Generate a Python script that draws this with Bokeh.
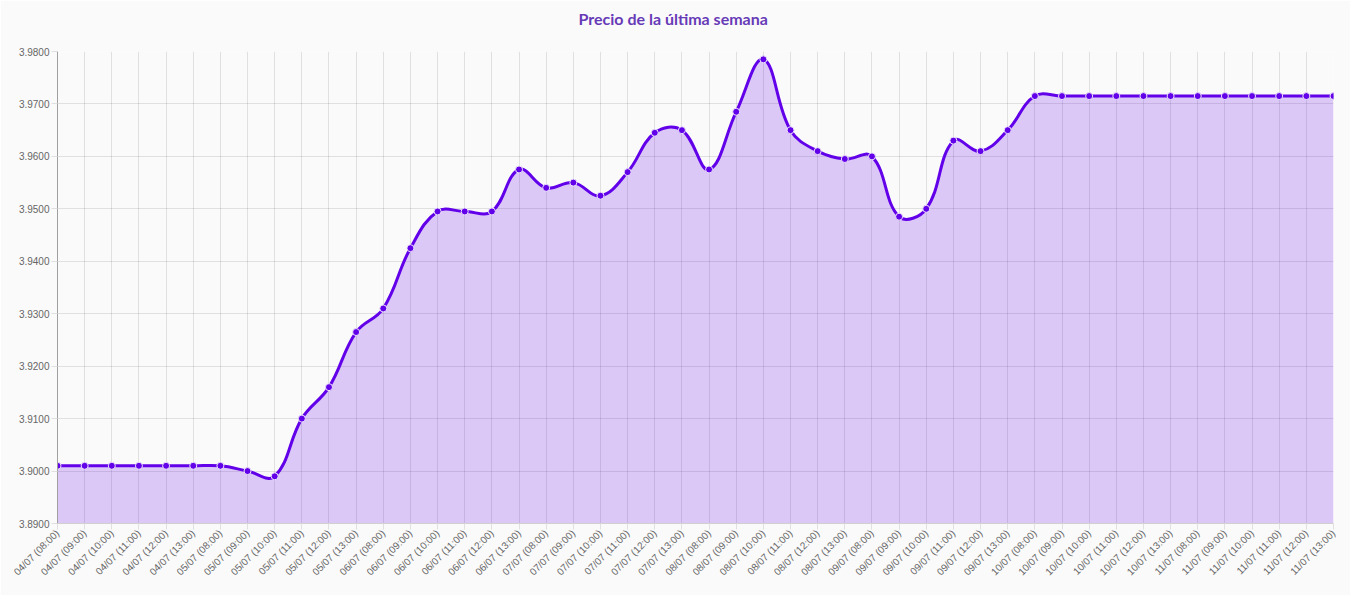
import numpy as np
from bokeh.plotting import figure
from bokeh.models import Range1d, FixedTicker, PrintfTickFormatter, Title
from bokeh.embed import file_html
from bokeh.resources import INLINE

labels = [
    "04/07 (08:00)", "04/07 (09:00)", "04/07 (10:00)", "04/07 (11:00)", "04/07 (12:00)", "04/07 (13:00)",
    "05/07 (08:00)", "05/07 (09:00)", "05/07 (10:00)", "05/07 (11:00)", "05/07 (12:00)", "05/07 (13:00)",
    "06/07 (08:00)", "06/07 (09:00)", "06/07 (10:00)", "06/07 (11:00)", "06/07 (12:00)", "06/07 (13:00)",
    "07/07 (08:00)", "07/07 (09:00)", "07/07 (10:00)", "07/07 (11:00)", "07/07 (12:00)", "07/07 (13:00)",
    "08/07 (08:00)", "08/07 (09:00)", "08/07 (10:00)", "08/07 (11:00)", "08/07 (12:00)", "08/07 (13:00)",
    "09/07 (08:00)", "09/07 (09:00)", "09/07 (10:00)", "09/07 (11:00)", "09/07 (12:00)", "09/07 (13:00)",
    "10/07 (08:00)", "10/07 (09:00)", "10/07 (10:00)", "10/07 (11:00)", "10/07 (12:00)", "10/07 (13:00)",
    "11/07 (08:00)", "11/07 (09:00)", "11/07 (10:00)", "11/07 (11:00)", "11/07 (12:00)", "11/07 (13:00)",
]
prices = [
    3.9010, 3.9010, 3.9010, 3.9010, 3.9010, 3.9010,
    3.9010, 3.9000, 3.8990, 3.9100, 3.9160, 3.9265,
    3.9310, 3.9425, 3.9495, 3.9495, 3.9495, 3.9575,
    3.9540, 3.9550, 3.9525, 3.9570, 3.9645, 3.9650,
    3.9575, 3.9685, 3.9785, 3.9650, 3.9610, 3.9595,
    3.9600, 3.9485, 3.9500, 3.9630, 3.9610, 3.9650,
    3.9715, 3.9715, 3.9715, 3.9715, 3.9715, 3.9715,
    3.9715, 3.9715, 3.9715, 3.9715, 3.9715, 3.9715,
]
y_ticks = [3.89, 3.90, 3.91, 3.92, 3.93, 3.94, 3.95, 3.96, 3.97, 3.98]
y_min, y_max = 3.89, 3.98
title_text = "Precio de la última semana"

LINE = "#6200ea"
W, H = 1350, 595
left, right, top, bottom = 57, 17, 51, 72
fw, fh = W - left - right, H - top - bottom

n = len(prices)
xs = np.arange(n, dtype=float)
ys = np.array(prices)

# Chart.js-style spline (tension 0.4), computed in pixel space
sx = fw / (n - 1)
sy = fh / (y_max - y_min)
px, py = xs * sx, ys * sy
t = 0.4
cp_prev = np.zeros((n, 2)); cp_next = np.zeros((n, 2))
for i in range(n):
    pi = max(i - 1, 0); ni = min(i + 1, n - 1)
    d01 = np.hypot(px[i] - px[pi], py[i] - py[pi])
    d12 = np.hypot(px[ni] - px[i], py[ni] - py[i])
    s = d01 + d12
    s01 = d01 / s if s else 0.0
    s12 = d12 / s if s else 0.0
    dx, dy = px[ni] - px[pi], py[ni] - py[pi]
    cp_prev[i] = (px[i] - t * s01 * dx, py[i] - t * s01 * dy)
    cp_next[i] = (px[i] + t * s12 * dx, py[i] + t * s12 * dy)
top_px = y_max * sy
cp_prev[:, 1] = np.minimum(cp_prev[:, 1], top_px)
cp_next[:, 1] = np.minimum(cp_next[:, 1], top_px)

x0 = xs[:-1]; y0 = ys[:-1]; x1 = xs[1:]; y1 = ys[1:]
cx0 = cp_next[:-1, 0] / sx; cy0 = cp_next[:-1, 1] / sy
cx1 = cp_prev[1:, 0] / sx; cy1 = cp_prev[1:, 1] / sy

# fill outline following the same bezier segments
tt = np.linspace(0, 1, 24)
fx, fy = [], []
for i in range(n - 1):
    a = (1 - tt) ** 3; b = 3 * (1 - tt) ** 2 * tt; c = 3 * (1 - tt) * tt ** 2; d = tt ** 3
    fx.append(a * x0[i] + b * cx0[i] + c * cx1[i] + d * x1[i])
    fy.append(a * y0[i] + b * cy0[i] + c * cy1[i] + d * y1[i])
fx = np.concatenate(fx); fy = np.concatenate(fy)

p = figure(width=W, height=H, output_backend="svg", toolbar_location=None,
           x_range=Range1d(0, n - 1), y_range=Range1d(y_min, y_max),
           min_border_left=left, min_border_right=right,
           min_border_top=top, min_border_bottom=bottom)
p.background_fill_color = "#fafafa"
p.border_fill_color = "#fafafa"
p.outline_line_color = None

# spacer between plot area and title (stacked next to the frame)
spacer = Title(text=" ", text_font_size="1px", standoff=20)
p.add_layout(spacer, "above")
main_title = Title(text=title_text, align="left", offset=521, vertical_align="middle",
                   text_font="Lato", text_font_size="16px", text_font_style="bold",
                   text_color="#673ab7", standoff=0)
p.add_layout(main_title, "above")

p.varea(x=fx, y1=y_min, y2=fy, fill_color=LINE, fill_alpha=0.2)
p.bezier(x0=x0, y0=y0, x1=x1, y1=y1, cx0=cx0, cy0=cy0, cx1=cx1, cy1=cy1,
         line_color=LINE, line_width=3)
p.scatter(xs, ys, size=7, fill_color=LINE, line_color="#ece3fb", line_width=1)

p.xaxis.ticker = FixedTicker(ticks=list(range(n)))
p.xaxis.major_label_overrides = {i: lab for i, lab in enumerate(labels)}
p.xaxis.major_label_orientation = np.pi / 4
p.yaxis.ticker = FixedTicker(ticks=y_ticks)
p.yaxis.formatter = PrintfTickFormatter(format="%.4f")

for ax in (p.xaxis, p.yaxis):
    ax.major_label_text_font = "Liberation Sans"
    ax.major_label_text_font_size = "10px"
    ax.major_label_text_color = "#666666"
    ax.major_tick_line_color = "#e0e0e0"
    ax.major_tick_in = 0
    ax.major_tick_out = 6
    ax.minor_tick_line_color = None
    ax.major_label_standoff = 2
p.yaxis.axis_line_color = "#a0a0a0"
p.xaxis.axis_line_color = "#d0d0d0"

p.grid.grid_line_color = "#000000"
p.grid.grid_line_alpha = 0.1

open("out.html", "w").write(file_html(p, INLINE))
